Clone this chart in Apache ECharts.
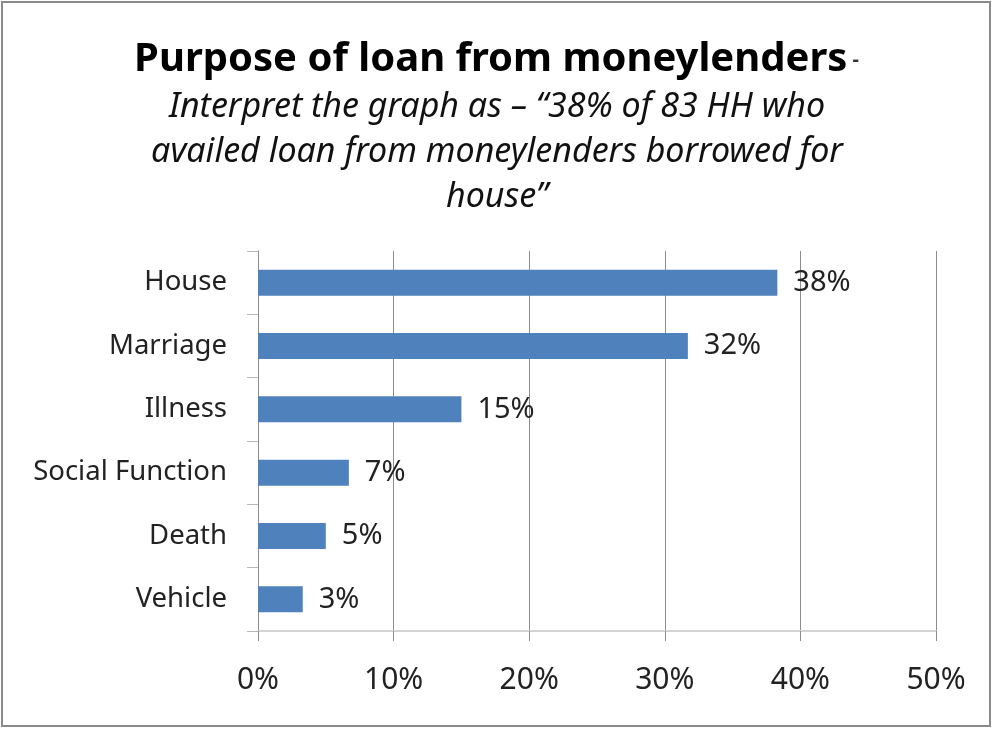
<!DOCTYPE html>
<html>
<head>
<meta charset="utf-8">
<script src="https://cdn.jsdelivr.net/npm/echarts@6/dist/echarts.min.js"></script>
<style>
html,body{margin:0;padding:0;background:#fff;}
#chart{width:993px;height:729px;}
</style>
</head>
<body>
<div id="chart"></div>
<script>
const categories = ['House', 'Marriage', 'Illness', 'Social Function', 'Death', 'Vehicle'];
const values = [38.3, 31.7, 15.0, 6.7, 5.0, 3.3];
const xTicks = [0, 10, 20, 30, 40, 50];

const titleMain = 'Purpose of loan from moneylenders';
const subtitleLines = [
  'Interpret the graph as \u2013 \u201c38% of 83 HH who',
  'availed loan from moneylenders borrowed for',
  'house\u201d'
];

const chart = echarts.init(document.getElementById('chart'), null, {renderer: 'canvas'});
const font = '"Noto Sans", sans-serif';
chart.setOption({
  backgroundColor: '#fff',
  animation: false,
  graphic: [{
    type: 'rect',
    shape: {x: 2, y: 2, width: 988, height: 724},
    style: {fill: 'none', stroke: '#8a8a8a', lineWidth: 2},
    silent: true
  }, {
    type: 'text',
    x: 497, y: 85,
    style: {
      text: subtitleLines.join('\n'),
      align: 'center', verticalAlign: 'top',
      font: 'italic 34px "Noto Sans", sans-serif',
      fill: '#111', lineHeight: 45
    },
    silent: true
  }],
  title: [{
    left: 'center',
    top: 30,
    text: '{a|' + titleMain + '}{b| -}',
    textStyle: {
      rich: {
        a: {fontFamily: font, fontWeight: 'bold', fontSize: 40, color: '#000', lineHeight: 50},
        b: {fontFamily: font, fontSize: 20, color: '#333', lineHeight: 50, verticalAlign: 'middle'}
      }
    }
  }],
  grid: {left: 258, right: 57, top: 251, bottom: 98, containLabel: false},
  xAxis: {
    type: 'value',
    min: 0, max: 50, interval: 10,
    axisLine: {show: true, lineStyle: {color: '#d4d4d4', width: 2}},
    axisTick: {show: true, length: 10, lineStyle: {color: '#8c8c8c'}},
    splitLine: {show: true, lineStyle: {color: '#8c8c8c', width: 1}},
    axisLabel: {
      margin: 34, fontFamily: font, fontSize: 30, color: '#222',
      formatter: function (v) { return xTicks.indexOf(v) >= 0 ? v + '%' : ''; }
    }
  },
  yAxis: {
    type: 'category',
    data: categories,
    inverse: true,
    axisLine: {show: true, lineStyle: {color: '#8c8c8c', width: 1}},
    axisTick: {show: true, length: 11, lineStyle: {color: '#b8b8b8'}},
    axisLabel: {margin: 31, fontFamily: font, fontSize: 27.5, color: '#222'}
  },
  series: [{
    type: 'bar',
    data: values,
    barWidth: 26,
    itemStyle: {color: '#4F81BD'},
    label: {
      show: true, position: 'right', distance: 16,
      fontFamily: font, fontSize: 29, color: '#222',
      formatter: function (p) { return Math.round(p.value) + '%'; }
    }
  }]
});
</script>
</body>
</html>
